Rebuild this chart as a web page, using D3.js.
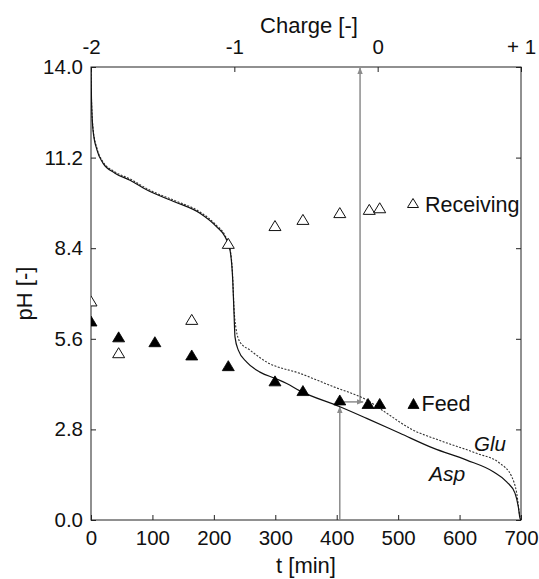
<!DOCTYPE html>
<html>
<head>
<meta charset="utf-8">
<script src="https://cdn.jsdelivr.net/npm/d3@7"></script>
<style>
  body { margin: 0; background: #fff; }
  text { font-family: "Liberation Sans", Arial, Helvetica, sans-serif; fill: #111; }
</style>
</head>
<body>
<svg id="chart" width="539" height="579"></svg>
<script>
// Axis ticks
const timeTicks = [0, 100, 200, 300, 400, 500, 600, 700];
const phTicks = [0.0, 2.8, 5.6, 8.4, 11.2, 14.0];
const chargeTicks = [-2, -1, 0, 1];
const chargeLabels = ["-2", "-1", "0", "+ 1"];

// Measured pH in the feed and receiving compartments
const feedT  = [0, 45, 104, 164, 223.5, 299.5, 345, 405, 451, 470];
const feedPH = [6.15, 5.66, 5.51, 5.10, 4.77, 4.30, 4.00, 3.71, 3.60, 3.60];
const recvT  = [0, 45, 164, 223.5, 299.5, 345, 405, 453, 470];
const recvPH = [6.77, 5.17, 6.20, 8.55, 9.10, 9.29, 9.50, 9.60, 9.65];

// Titration curves (time axis doubles as charge axis)
const aspT  = [0, 0.8, 3.3, 9.8, 19.5, 39, 63.5, 96, 136.7, 177.4, 204.6, 218, 226.3, 230.7, 232.8, 234.4, 239.8, 253.5, 275, 299.5, 318.6, 340.2, 405.3, 448.8, 503, 557.2, 611.6, 654.9, 676.7, 690.2, 695.6, 698.4, 700];
const aspPH = [14.0, 12.98, 12.05, 11.43, 11.03, 10.72, 10.5, 10.15, 9.83, 9.48, 9.06, 8.76, 8.34, 7.42, 6.40, 5.66, 5.25, 4.88, 4.57, 4.38, 4.22, 3.99, 3.50, 3.14, 2.68, 2.22, 1.85, 1.49, 1.18, 0.83, 0.41, 0.05, 0.0];
const gluT  = [0, 0.8, 3.3, 9.8, 19.5, 39, 63.5, 96, 136.7, 177.4, 204.6, 218, 226.3, 230.7, 232.8, 236, 242.6, 258.8, 286, 340.2, 394.4, 448.8, 481.4, 519.3, 573.5, 627.9, 665.8, 684.9, 693, 698.4, 700];
const gluPH = [14.0, 13.0, 12.1, 11.48, 11.07, 10.76, 10.54, 10.19, 9.87, 9.52, 9.10, 8.80, 8.38, 7.50, 6.55, 5.93, 5.50, 5.25, 4.88, 4.53, 4.12, 3.71, 3.30, 2.83, 2.42, 2.06, 1.75, 1.34, 0.83, 0.10, 0.0];

// Guide arrows: feed pH read at t, then carried across to the charge axis
const guideT1 = 405, guideT2 = 438, guidePH = 3.65;

const svg = d3.select("#chart");
const m = { left: 91, right: 18, top: 67, bottom: 59 };
const W = 539, H = 579;
const x = d3.scaleLinear().domain([0, 700]).range([m.left, W - m.right]);
const y = d3.scaleLinear().domain([0, 14]).range([H - m.bottom, m.top]);
const xc = d3.scaleLinear().domain([-2, 1]).range([m.left, W - m.right]);

svg.append("defs").append("clipPath").attr("id", "plot")
  .append("rect").attr("x", x(0)).attr("y", y(14)).attr("width", x(700) - x(0)).attr("height", y(0) - y(14));

const defs = svg.select("defs");
defs.append("marker").attr("id", "head").attr("viewBox", "0 0 10 10")
  .attr("refX", 9).attr("refY", 5).attr("markerWidth", 7).attr("markerHeight", 7)
  .attr("orient", "auto-start-reverse").attr("markerUnits", "userSpaceOnUse")
  .append("path").attr("d", "M0,1 L10,5 L0,9 Z").attr("fill", "#8c8c8c");

const tickLen = 5;
const fs = "20.5px";

// Axes with inward ticks
const gB = svg.append("g").attr("transform", `translate(0,${y(0)})`)
  .call(d3.axisBottom(x).tickValues(timeTicks).tickSize(-tickLen).tickPadding(10).tickFormat(d3.format("d")));
const gT = svg.append("g").attr("transform", `translate(0,${y(14)})`)
  .call(d3.axisTop(xc).tickValues(chargeTicks).tickSize(-tickLen).tickPadding(13).tickFormat((d, i) => chargeLabels[i]));
const gL = svg.append("g").attr("transform", `translate(${x(0)},0)`)
  .call(d3.axisLeft(y).tickValues(phTicks).tickSize(-tickLen).tickPadding(8).tickFormat(d3.format(".1f")));
const gR = svg.append("g").attr("transform", `translate(${x(700)},0)`)
  .call(d3.axisRight(y).tickValues(phTicks).tickSize(-tickLen).tickFormat(""));

[gB, gT, gL, gR].forEach(g => {
  g.select(".domain").remove();
  g.selectAll(".tick line").attr("stroke", "#222");
  g.selectAll(".tick text").style("font-size", fs).attr("fill", "#111")
    .style("font-family", '"Liberation Sans", Arial, sans-serif');
});

svg.append("rect").attr("x", x(0)).attr("y", y(14))
  .attr("width", x(700) - x(0)).attr("height", y(0) - y(14))
  .attr("fill", "none").attr("stroke", "#222").attr("stroke-width", 1);

// Axis titles
svg.append("text").attr("x", (x(0) + x(700)) / 2).attr("y", 573)
  .attr("text-anchor", "middle").style("font-size", "22px").text("t [min]");
svg.append("text").attr("x", (x(0) + x(700)) / 2 + 3).attr("y", 33)
  .attr("text-anchor", "middle").style("font-size", "22px").text("Charge [-]");
svg.append("text").attr("transform", `translate(32,${(y(0) + y(14)) / 2}) rotate(-90)`)
  .attr("text-anchor", "middle").style("font-size", "22px").text("pH [-]");

const plot = svg.append("g").attr("clip-path", "url(#plot)");

// Guide arrows
const gray = "#8c8c8c";
plot.append("line").attr("x1", x(guideT1)).attr("y1", y(0)).attr("x2", x(guideT1)).attr("y2", y(guidePH) + 5)
  .attr("stroke", gray).attr("stroke-width", 1.5).attr("marker-end", "url(#head)");
plot.append("line").attr("x1", x(guideT1) + 2).attr("y1", y(guidePH)).attr("x2", x(guideT2) + 3).attr("y2", y(guidePH))
  .attr("stroke", gray).attr("stroke-width", 1.5).attr("marker-end", "url(#head)");
plot.append("line").attr("x1", x(guideT2)).attr("y1", y(guidePH)).attr("x2", x(guideT2)).attr("y2", y(14) + 1)
  .attr("stroke", gray).attr("stroke-width", 1.5).attr("marker-end", "url(#head)");

// Titration curves
const line = d3.line().x(d => x(d[0])).y(d => y(d[1])).curve(d3.curveMonotoneX);
plot.append("path").datum(gluT.map((t, i) => [t, gluPH[i]]))
  .attr("d", line).attr("fill", "none").attr("stroke", "#333").attr("stroke-width", 1.1)
  .attr("stroke-dasharray", "2,1.5");
plot.append("path").datum(aspT.map((t, i) => [t, aspPH[i]]))
  .attr("d", line).attr("fill", "none").attr("stroke", "#111").attr("stroke-width", 1.2);

// Triangle marker centred on its bounding box
const tri = (w, h) => `M0,${-h / 2} L${w / 2},${h / 2} L${-w / 2},${h / 2} Z`;

plot.selectAll(".recv").data(recvT.map((t, i) => [t, recvPH[i]])).join("path")
  .attr("transform", d => `translate(${x(d[0])},${y(d[1])})`)
  .attr("d", tri(12, 10)).attr("fill", "#fff").attr("stroke", "#111").attr("stroke-width", 1);
plot.selectAll(".feed").data(feedT.map((t, i) => [t, feedPH[i]])).join("path")
  .attr("transform", d => `translate(${x(d[0])},${y(d[1])})`)
  .attr("d", tri(12, 10)).attr("fill", "#000").attr("stroke", "#000").attr("stroke-width", 0.8);

// Series labels
svg.append("path").attr("transform", "translate(413,203)").attr("d", tri(11, 9))
  .attr("fill", "#fff").attr("stroke", "#111");
svg.append("text").attr("x", 425).attr("y", 211.5).style("font-size", "21.5px").text("Receiving");
svg.append("path").attr("transform", "translate(413.5,403.5)").attr("d", tri(11, 10))
  .attr("fill", "#000").attr("stroke", "#000").attr("stroke-width", 0.8);
svg.append("text").attr("x", 421.5).attr("y", 411).style("font-size", "21.5px").text("Feed");

svg.append("text").attr("x", 474).attr("y", 451).style("font-size", "20.5px").style("font-style", "italic").text("Glu");
svg.append("text").attr("x", 429).attr("y", 481).style("font-size", "21px").style("font-style", "italic").text("Asp");
</script>
</body>
</html>
